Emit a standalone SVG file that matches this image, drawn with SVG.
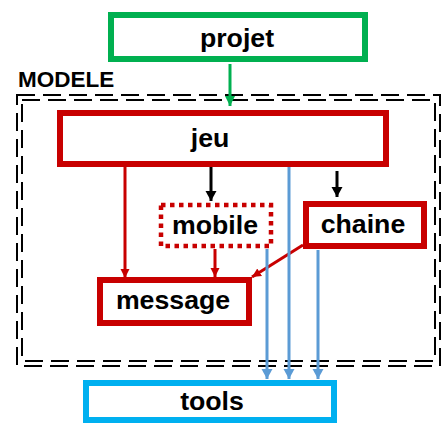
<svg xmlns="http://www.w3.org/2000/svg" width="442" height="425" viewBox="0 0 442 425">
  <style>
    .box { fill: #ffffff; stroke-width: 6; }
    .red { stroke: #C80000; }
    .lbl { font-family: "Liberation Sans", Arial, sans-serif; font-weight: bold; font-size: 26.7px; fill: #000; text-anchor: middle; }
    .frame { fill: none; stroke: #000; stroke-width: 2; stroke-dasharray: 18 8; }
    .conn { fill: none; stroke-width: 3; }
  </style>
  <defs>
    <marker id="hGreen" markerUnits="userSpaceOnUse" markerWidth="12" markerHeight="12" refX="10" refY="5" orient="auto">
      <path d="M0,0 L10,5 L0,10 Z" fill="#00B050"/>
    </marker>
    <marker id="hRed" markerUnits="userSpaceOnUse" markerWidth="12" markerHeight="12" refX="9" refY="5" orient="auto">
      <path d="M0,0.5 L9,5 L0,9.5 Z" fill="#C80000"/>
    </marker>
    <marker id="hBlack" markerUnits="userSpaceOnUse" markerWidth="12" markerHeight="12" refX="10" refY="5.5" orient="auto">
      <path d="M0,0 L10,5.5 L0,11 Z" fill="#000"/>
    </marker>
    <marker id="hBlue" markerUnits="userSpaceOnUse" markerWidth="12" markerHeight="12" refX="10" refY="5.5" orient="auto">
      <path d="M0,0 L10,5.5 L0,11 Z" fill="#5B9BD5"/>
    </marker>
  </defs>

  <!-- MODELE package: double dashed frame -->
  <g id="modele">
    <rect class="frame" x="17" y="95" width="423" height="271"/>
    <rect class="frame" x="22" y="100" width="413" height="261"/>
    <text x="18" y="87" font-family="Liberation Sans, Arial, sans-serif" font-weight="bold" font-size="22.5" fill="#000">MODELE</text>
  </g>

  <!-- dependencies -->
  <g id="connectors">
    <line class="conn" x1="230" y1="64" x2="230" y2="106" stroke="#00B050" marker-end="url(#hGreen)"/>
    <line class="conn" x1="125" y1="167" x2="125" y2="278" stroke="#C80000" marker-end="url(#hRed)"/>
    <line class="conn" x1="211" y1="167" x2="211" y2="201" stroke="#000" marker-end="url(#hBlack)"/>
    <line class="conn" x1="337" y1="171" x2="337" y2="197" stroke="#000" marker-end="url(#hBlack)"/>
    <line class="conn" x1="215" y1="249" x2="215" y2="277" stroke="#C80000" marker-end="url(#hRed)"/>
    <line class="conn" x1="303" y1="245" x2="252" y2="277" stroke="#C80000" marker-end="url(#hRed)"/>
    <line class="conn" x1="267" y1="249" x2="267" y2="379" stroke="#5B9BD5" marker-end="url(#hBlue)"/>
    <line class="conn" x1="289" y1="167" x2="289" y2="379" stroke="#5B9BD5" marker-end="url(#hBlue)"/>
    <line class="conn" x1="318" y1="250" x2="318" y2="379" stroke="#5B9BD5" marker-end="url(#hBlue)"/>
  </g>

  <g id="projet">
    <rect class="box" x="111" y="15" width="254" height="44" stroke="#00B050"/>
    <text class="lbl" x="237" y="47">projet</text>
  </g>

  <g id="jeu">
    <rect class="box red" x="60" y="113" width="326" height="51"/>
    <text class="lbl" x="210" y="147">jeu</text>
  </g>

  <g id="mobile">
    <rect x="161" y="205" width="110" height="41" fill="#fff" stroke="#C80000" stroke-width="4.5" stroke-dasharray="4.5 4.5"/>
    <text class="lbl" x="215" y="234">mobile</text>
  </g>

  <g id="chaine">
    <rect class="box red" x="306" y="204" width="118" height="42"/>
    <text class="lbl" x="363" y="233">chaine</text>
  </g>

  <g id="message">
    <rect class="box red" x="100" y="280" width="149" height="43"/>
    <text class="lbl" x="173" y="309">message</text>
  </g>

  <g id="tools">
    <rect class="box" x="86" y="383" width="248" height="37" stroke="#00B0F0"/>
    <text class="lbl" x="212" y="410">tools</text>
  </g>
</svg>
